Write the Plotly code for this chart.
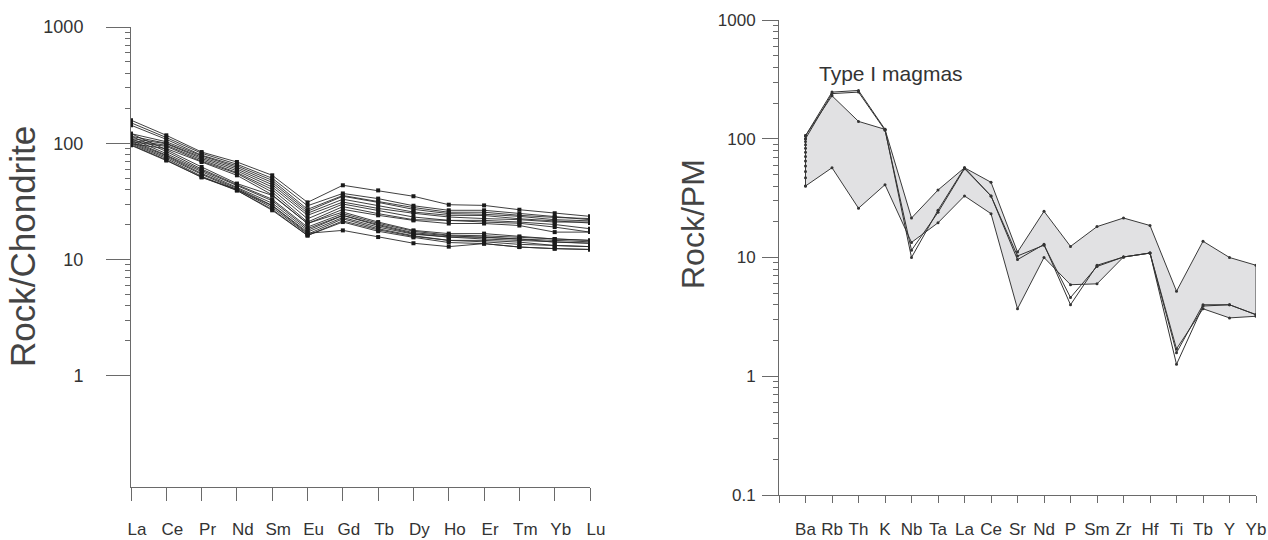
import plotly.graph_objects as go

# ---------------- Left: REE chondrite-normalised ----------------
ree = ["La", "Ce", "Pr", "Nd", "Sm", "Eu", "Gd", "Tb", "Dy", "Ho", "Er", "Tm", "Yb", "Lu"]

h1 = [158, 117, 84, 69, 53, 31, 43.5, 39.3, 35, 29.6, 29.2, 26.8, 25, 23.5]
h2 = [150, 112, 82, 66, 50, 29, 37, 33.4, 29, 26.5, 26.5, 24.8, 23.2, 22]
h3 = [143, 108, 79, 64, 48, 27, 35.5, 31.5, 28, 25.5, 25.5, 24, 23, 22.5]
h4 = [121, 103, 78, 62, 46, 26, 35, 31, 27, 24.8, 24.5, 23.5, 22, 21.5]
h5 = [115, 100, 76, 60, 44, 25, 33, 29.2, 25.6, 24, 23.9, 22.4, 21.5, 20.6]
h6 = [110, 99, 74, 58, 42, 24, 31.2, 27.5, 25, 23.2, 22.5, 22, 21, 21]
h7 = [106, 96, 72, 56, 40, 22.4, 30, 26.5, 23.2, 21.7, 21.7, 21, 20, 18.4]
h8 = [103, 94, 70, 55, 38, 21, 28.5, 24.8, 22, 21.7, 21, 20.5, 19, 17.2]
h9 = [99, 90, 69, 53, 36, 20.4, 27, 24, 21.7, 20.4, 20.4, 19.6, 17.2, 17.2]
l1 = [121, 88, 62.5, 45, 35.6, 20.4, 25.6, 21, 17.8, 16.7, 16.7, 15.8, 15, 14.6]
l2 = [115, 85, 60, 44, 33, 19, 24.8, 20.5, 17.5, 16.2, 16, 15.5, 15, 14.6]
l3 = [110, 81.5, 58.5, 43, 32, 18.4, 24, 20, 17, 16, 15.6, 15, 14.6, 14.2]
l4 = [106, 79, 57, 42, 30.5, 17.8, 23.9, 19.6, 16.7, 15.6, 15.6, 15, 14.1, 13.8]
l5 = [103, 78, 55, 41, 29.2, 17.2, 23, 19, 16.5, 15.6, 15, 14.6, 14.1, 13.8]
l6 = [101, 76, 54, 40, 28, 16.5, 22.4, 18.4, 16, 14.6, 14.6, 14.1, 13.2, 12.9]
l7 = [99, 74, 52, 39.3, 27, 16.1, 21.5, 18, 15.8, 14.6, 14.2, 13.5, 13.2, 12.9]
l8 = [97, 72, 51, 39.3, 26.5, 16.1, 21, 17.5, 15.5, 14, 13.7, 12.8, 12.4, 12.2]
l9 = [96, 71, 51, 40, 29, 16.8, 17.8, 15.6, 13.8, 12.9, 13.7, 12.8, 12.4, 12.2]
ree_samples = [h1, h2, h3, h4, h5, h6, h7, h8, h9, l1, l2, l3, l4, l5, l6, l7, l8, l9]

# ---------------- Right: primitive-mantle spidergram ----------------
spider = ["Ba", "Rb", "Th", "K", "Nb", "Ta", "La", "Ce", "Sr", "Nd", "P",
          "Sm", "Zr", "Hf", "Ti", "Tb", "Y", "Yb"]
field_upper = [106, 230, 140, 120, 21.5, 37, 57, 43, 11.1, 24.5, 12.4, 18.2, 21.5, 18.6, 5.2, 13.7, 10, 8.6]
field_lower = [40, 57, 26, 41, 13.4, 19.6, 33, 23.4, 3.7, 10, 5.9, 6.0, 10.1, 10.9, 1.7, 3.7, 3.1, 3.2]
sample_a = [106, 247, 255, 120, 10, 25, 57, 33, 9.6, 12.9, 4.0, 8.6, 10.1, 10.9, 1.26, 3.9, 4.0, 3.3]
sample_b = [100, 240, 247, 118, 11.5, 24, 56, 33, 10.3, 12.7, 4.6, 8.4, 10.1, 10.9, 1.58, 4.0, 4.0, 3.3]
ba_points = [106, 100, 95, 89, 83, 77, 71, 65, 59, 53, 47, 40]

FONT = "Liberation Sans, Arial, Helvetica, sans-serif"
AX = "#6a6a6a"
TXT = "#333333"

fig = go.Figure()

# left lines
xl = list(range(len(ree)))
for s in ree_samples:
    fig.add_trace(go.Scatter(
        x=xl, y=s, mode="lines+markers", xaxis="x", yaxis="y",
        line=dict(color="#2a2a2a", width=0.9),
        marker=dict(symbol="square", size=4, color="#1a1a1a"),
        showlegend=False, hoverinfo="skip"))

# right field polygon
xr = list(range(1, len(spider) + 1))
poly_x = xr + xr[::-1] + [xr[0]]
poly_y = field_upper + field_lower[::-1] + [field_upper[0]]
fig.add_trace(go.Scatter(
    x=poly_x, y=poly_y, mode="lines+markers", fill="toself", xaxis="x2", yaxis="y2",
    fillcolor="#e1e1e3", line=dict(color="#3a3a3a", width=1),
    marker=dict(size=3, color="#333333"),
    showlegend=False, hoverinfo="skip"))
for s in (sample_a, sample_b):
    fig.add_trace(go.Scatter(
        x=xr, y=s, mode="lines+markers", xaxis="x2", yaxis="y2",
        line=dict(color="#333333", width=1),
        marker=dict(size=3, color="#333333"),
        showlegend=False, hoverinfo="skip"))
fig.add_trace(go.Scatter(
    x=[xr[0]] * len(ba_points), y=ba_points, mode="markers", xaxis="x2", yaxis="y2",
    marker=dict(size=3, color="#333333"), showlegend=False, hoverinfo="skip"))

W, H = 1268, 540
minor_left = [m * 10 ** k for k in range(0, 3) for m in range(2, 10)]
minor_right = [m * 10 ** k for k in range(-1, 3) for m in range(2, 10)]

xtickfont = dict(family=FONT, size=17, color=TXT)
ytickfont = dict(family=FONT, size=18, color=TXT)

fig.update_layout(
    width=W, height=H, autosize=False,
    margin=dict(l=0, r=0, t=0, b=0, pad=0, autoexpand=False),
    paper_bgcolor="white", plot_bgcolor="white",
    font=dict(family=FONT, color=TXT),
    xaxis=dict(domain=[131 / W, 590 / W], range=[0, len(ree) - 1],
               tickvals=xl, ticktext=ree, ticks="outside", ticklen=13,
               tickcolor=AX, showline=True, linecolor=AX, linewidth=1,
               showgrid=False, zeroline=False, tickfont=xtickfont,
               ticklabelstandoff=14, ticklabelshift=6, anchor="y", automargin=False),
    yaxis=dict(domain=[1 - 487 / H, 1 - 27 / H], type="log", range=[-0.957, 3],
               tickvals=[1, 10, 100, 1000], ticktext=["1", "10", "100", "1000"],
               ticks="outside", ticklen=24, tickcolor=AX, showline=True,
               linecolor=AX, linewidth=1, showgrid=False, zeroline=False,
               tickfont=ytickfont, ticklabelstandoff=19, anchor="x", automargin=False,
               minor=dict(tickvals=minor_left, ticks="outside", ticklen=5,
                          tickcolor=AX, showgrid=False)),
    xaxis2=dict(domain=[779 / W, 1256 / W], range=[0, len(spider)],
                tickvals=[0] + xr, ticktext=[""] + spider, ticks="outside", ticklen=7,
                tickcolor=AX, showline=True, linecolor=AX, linewidth=1,
                showgrid=False, zeroline=False, tickfont=xtickfont,
                ticklabelstandoff=12, anchor="y2", automargin=False),
    yaxis2=dict(domain=[1 - 495 / H, 1 - 20 / H], type="log", range=[-1, 3],
                tickvals=[0.1, 1, 10, 100, 1000], ticktext=["0.1", "1", "10", "100", "1000"],
                ticks="outside", ticklen=16, tickcolor=AX, showline=True,
                linecolor=AX, linewidth=1, showgrid=False, zeroline=False,
                tickfont=xtickfont, ticklabelstandoff=3, anchor="x2", automargin=False,
                minor=dict(tickvals=minor_right, ticks="outside", ticklen=5,
                           tickcolor=AX, showgrid=False)),
    annotations=[
        dict(text="Rock/Chondrite", x=22 / W, y=1 - 247 / H, xref="paper", yref="paper",
             xanchor="center", yanchor="middle",
             textangle=-90, showarrow=False, font=dict(family=FONT, size=35, color="#444444")),
        dict(text="Rock/PM", x=693 / W, y=1 - 224 / H, xref="paper", yref="paper",
             xanchor="center", yanchor="middle",
             textangle=-90, showarrow=False, font=dict(family=FONT, size=32, color="#444444")),
        dict(text="Type I magmas", x=891 / W, y=1 - 73 / H, xref="paper", yref="paper",
             xanchor="center", yanchor="middle",
             showarrow=False, font=dict(family=FONT, size=21, color=TXT)),
    ],
)

fig.write_html("out.html", config={"displayModeBar": False},
               post_script="document.body.style.margin='0';document.body.style.overflow='hidden';")
